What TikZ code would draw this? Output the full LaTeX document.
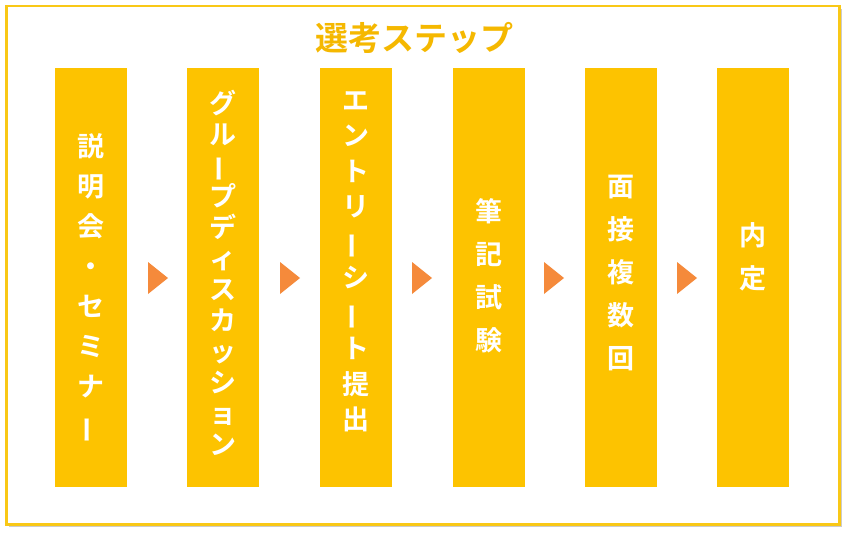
\documentclass[tikz,border=0pt]{standalone}
\usepackage{fontspec}
\newfontfamily\jp{Noto Sans CJK JP Bold}
\usetikzlibrary{shadows}
\definecolor{ybar}{HTML}{FDC300}
\definecolor{yframe}{HTML}{F9C816}
\definecolor{ytitle}{HTML}{F5B800}
\definecolor{oarrow}{HTML}{F58A3B}
\newcommand{\vb}{\rotatebox[origin=c]{90}{ー}}
\tikzset{
 col/.style={fill=ybar,draw=none,minimum width=72pt,minimum height=419pt,anchor=north west},
 vt/.style={text=white,font=\jp\fontsize{27}{#1}\selectfont,align=center,anchor=north,inner sep=0pt},
 tri/.style={fill=oarrow,draw=none}
}
\begin{document}
\begin{tikzpicture}[x=1pt,y=-1pt]
\useasboundingbox (0,0) rectangle (850,535);
\node[draw=yframe,line width=2.5pt,fill=white,minimum width=833pt,minimum height=518pt,anchor=north west,inner sep=0pt,drop shadow={shadow xshift=3pt,shadow yshift=-3pt,opacity=0.4}] (frame) at (5,5) {};
\node[text=ytitle,font=\jp\fontsize{33}{35}\selectfont] (title) at (414,38) {選考ステップ};
\foreach \i/\x in {1/55,2/187,3/320,4/453,5/585,6/717}{
  \node[col] (c\i) at (\x,68) {};
}
\node[vt=40] (t1) at (91,133) {説\\明\\会\\・\\セ\\ミ\\ナ\\\vb};
\node[vt=31] (t2) at (223,90) {グ\\ル\\\vb\\プ\\デ\\ィ\\ス\\カ\\ッ\\シ\\ョ\\ン};
\node[vt=35.5] (t3) at (356,91) {エ\\ン\\ト\\リ\\\vb\\シ\\\vb\\ト\\提\\出};
\node[vt=43] (t4) at (489,198) {筆\\記\\試\\験};
\node[vt=43] (t5) at (621,175) {面\\接\\複\\数\\回};
\node[vt=43] (t6) at (753,222) {内\\定};
\foreach \x in {157,289,421,553,686}{
  \fill[tri] (\x-9,262) -- (\x+11,278) -- (\x-9,294) -- cycle;
}
\end{tikzpicture}
\end{document}
